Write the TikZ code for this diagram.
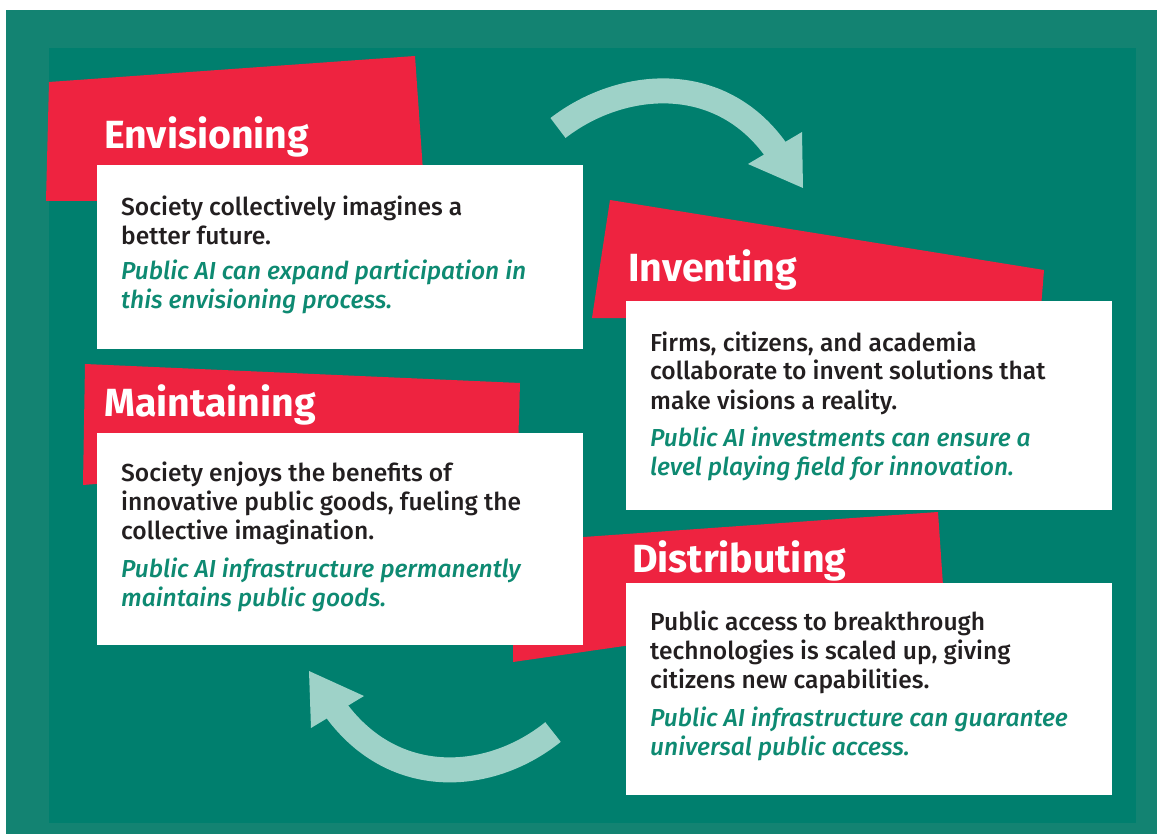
\documentclass[tikz,border=0pt]{standalone}
\usepackage{fontspec}
\setmainfont{Fira Sans}[UprightFont={* Medium}, ItalicFont={* Medium Italic}, BoldFont={* Bold}, BoldItalicFont={* Bold Italic}]
\definecolor{outerteal}{HTML}{138372}
\definecolor{innerteal}{HTML}{007F6E}
\definecolor{redb}{HTML}{EE2340}
\definecolor{arrowc}{HTML}{9ED2C8}
\definecolor{greentext}{HTML}{0E8A72}
\definecolor{darktext}{HTML}{231F20}
\tikzset{
  whitebox/.style={fill=white, draw=none, anchor=north west, inner sep=0pt, minimum width=486pt},
  titletext/.style={anchor=base west, inner sep=0pt, text=white, font=\fontsize{39.3}{42}\selectfont\bfseries},
  bodytext/.style={anchor=base west, inner sep=0pt, align=left, text=darktext, font=\fontsize{24.6}{29}\selectfont},
  greenpara/.style={anchor=base west, inner sep=0pt, align=left, text=greentext, font=\fontsize{24.6}{29}\selectfont\itshape},
  band/.style={draw=arrowc, line width=25pt},
  head/.style={fill=arrowc}
}
\begin{document}
\begin{tikzpicture}[x=1pt,y=-1pt]
\useasboundingbox (0,0) rectangle (1157,834);
\fill[white] (0,0) rectangle (1157,834);
\fill[outerteal] (6,10) rectangle (1157,834);
\fill[innerteal] (49,48) rectangle (1136,823);
% red banners
\fill[redb] (49,82) -- (415,56) -- (425,200) -- (46,201) -- cycle;
\fill[redb] (610,200) -- (1044,270) -- (1040,320) -- (592,318) -- cycle;
\fill[redb] (85,364) -- (520,383) -- (518,450) -- (83,485) -- cycle;
\fill[redb] (513,542) -- (938,512) -- (944,600) -- (513,662) -- cycle;
% white boxes
\node[whitebox, minimum height=184pt] (envbox) at (97,165) {};
\node[whitebox, minimum height=209pt] (invbox) at (626,301) {};
\node[whitebox, minimum height=212pt] (mntbox) at (97,433) {};
\node[whitebox, minimum height=212pt] (disbox) at (626,583) {};
% titles
\node[titletext] (envt) at (104,149) {Envisioning};
\node[titletext] (invt) at (628,282) {Inventing};
\node[titletext] (mntt) at (104,416) {Maintaining};
\node[titletext] (dist) at (632,572) {Distributing};
% texts (anchor = baseline of last line)
\node[bodytext] (envb) at (121,245) {Society collectively imagines a\\better future.};
\node[greenpara] (envg) at (121,309) {Public AI can expand participation in\\this envisioning process.};
\node[bodytext] (invb) at (650,409) {Firms, citizens, and academia\\collaborate to invent solutions that\\make visions a reality.};
\node[greenpara] (invg) at (650,475) {Public AI investments can ensure a\\level playing field for innovation.};
\node[bodytext] (mntb) at (121,539) {Society enjoys the benefits of\\innovative public goods, fueling the\\collective imagination.};
\node[greenpara] (mntg) at (121,606) {Public AI infrastructure permanently\\maintains public goods.};
\node[bodytext] (disb) at (650,688) {Public access to breakthrough\\technologies is scaled up, giving\\citizens new capabilities.};
\node[greenpara] (disg) at (650,755) {Public AI infrastructure can guarantee\\universal public access.};
% arrows
\coordinate (a1s) at (558,128);
\coordinate (a1e) at (776,150);
\draw[band] (a1s) .. controls (620,80) and (719,70) .. (a1e);
\fill[head] (748,164) -- (802,132) -- (803,188) -- cycle;
\coordinate (a2s) at (553,732);
\coordinate (a2e) at (336,710);
\draw[band] (a2s) .. controls (491,782) and (395,790) .. (a2e);
\fill[head] (309,671) -- (364,696) -- (311,728) -- cycle;
\end{tikzpicture}
\end{document}
